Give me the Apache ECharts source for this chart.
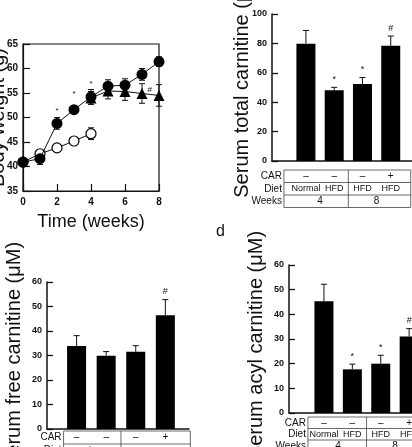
<!DOCTYPE html>
<html>
<head>
<meta charset="utf-8">
<script src="https://cdn.jsdelivr.net/npm/echarts@6/dist/echarts.min.js"></script>
<style>
  html, body { margin: 0; padding: 0; background: #fff; }
  #main { width: 412px; height: 447px; }
</style>
</head>
<body>
<div id="main"></div>
<script>
// panel a: body weight over time
const weeks = [0, 1, 2, 3, 4, 5, 6, 7, 8]
const hfdWeight = [40.9, 41.6, 48.8, 51.6, 54.2, 56.4, 56.6, 58.8, 61.4]
const hfdSem = [0.6, 1.2, 1.2, 0.6, 1.5, 1.3, 1.3, 1.2, 1.0]
const normalWeeks = [0, 1, 2, 3, 4]
const normalWeight = [40.9, 42.6, 43.8, 45.2, 46.7]
const normalSem = [0.5, 0.8, 0.5, 0.6, 1.2]
const carWeeks = [4, 5, 6, 7, 8]
const carWeight = [54.0, 55.4, 55.3, 54.9, 54.5]
const carSem = [1.3, 1.6, 1.8, 2.0, 2.2]
const sigWeeks = [2, 3, 4, 7.45]
const sigLevel = [51.4, 54.8, 56.8, 55.6]
const sigText = ['*', '*', '*', '#']

// panels b, c, d: serum carnitine
const groupPos = [1, 2, 3, 4]
const carRow = ['–', '–', '–', '+']
const dietRow = ['Normal', 'HFD', 'HFD', 'HFD']
const weekRow = ['4', '8']
const totalMean = [79.8, 48.1, 52.3, 78.4]
const totalSem = [9.0, 2.0, 4.5, 6.6]
const totalSig = ['', '*', '*', '#']
const freeMean = [33.9, 29.9, 31.5, 46.4]
const freeSem = [4.2, 1.7, 2.5, 6.4]
const freeSig = ['', '', '', '#']
const acylMean = [45.3, 17.7, 20.0, 31.0]
const acylSem = [6.9, 2.1, 3.4, 3.2]
const acylSig = ['', '*', '*', '#']

const FONT = '"Liberation Sans", Arial, sans-serif'
const INK = '#111'

const chart = echarts.init(document.getElementById('main'))

// vertical error bar with caps, data = [x, lo, hi]
const errorBar = (capHalf, lowCap) => (params, api) => {
  const lo = api.coord([api.value(0), api.value(1)])
  const hi = api.coord([api.value(0), api.value(2)])
  const style = { stroke: INK, lineWidth: 1 }
  const children = [
    { type: 'line', shape: { x1: lo[0], y1: lo[1], x2: hi[0], y2: hi[1] }, style },
    { type: 'line', shape: { x1: hi[0] - capHalf, y1: hi[1], x2: hi[0] + capHalf, y2: hi[1] }, style },
  ]
  if (lowCap) {
    children.push({ type: 'line', shape: { x1: lo[0] - capHalf, y1: lo[1], x2: lo[0] + capHalf, y2: lo[1] }, style })
  }
  return { type: 'group', children }
}

// significance marks, data = [x, y, textIndex]
const sigMark = (texts, lift, size) => (params, api) => {
  const p = api.coord([api.value(0), api.value(1)])
  return {
    type: 'text',
    x: p[0],
    y: p[1] - lift,
    style: { text: texts[api.value(2)], fill: INK, font: size + 'px ' + FONT, align: 'center', verticalAlign: 'middle' },
  }
}

const lineErr = (xs, mean, sem) => xs.map((x, i) => [x, mean[i] - sem[i], mean[i] + sem[i]])
const barErr = (mean, sem) => groupPos.map((x, i) => [x, mean[i], mean[i] + sem[i]])
const barSig = (mean, sem, sig) => groupPos
  .map((x, i) => [x, mean[i] + sem[i], i])
  .filter((d) => sig[d[2]] !== '')

// padding shifts the rotated title along the axis
const barYAxis = (gridIndex, max, interval, name, nameGap, padding) => ({
  gridIndex,
  type: 'value',
  min: 0,
  max,
  interval,
  name,
  nameLocation: 'middle',
  nameGap,
  nameMoveOverlap: false,
  nameTextStyle: { fontSize: 20, color: INK, fontFamily: FONT, padding },
  axisLine: { show: true, onZero: false, lineStyle: { color: INK, width: 1.5 } },
  axisTick: { show: true, inside: true, length: 6, lineStyle: { color: INK, width: 1.3 } },
  axisLabel: { margin: 5, fontSize: 9, fontWeight: 'bold', color: INK, fontFamily: FONT },
  splitLine: { show: false },
})

const barXAxis = (gridIndex, min, max) => ({
  gridIndex,
  type: 'value',
  min,
  max,
  axisLine: { show: true, onZero: false, lineStyle: { color: INK, width: 1.5 } },
  axisTick: { show: false },
  axisLabel: { show: false },
  splitLine: { show: false },
})

const barSeries = (idx, mean, sem, sig) => [
  {
    type: 'bar',
    xAxisIndex: idx,
    yAxisIndex: idx,
    barWidth: 19,
    itemStyle: { color: '#000' },
    data: groupPos.map((x, i) => [x, mean[i]]),
  },
  {
    type: 'custom',
    xAxisIndex: idx,
    yAxisIndex: idx,
    renderItem: errorBar(3, false),
    encode: { x: 0, y: [1, 2] },
    data: barErr(mean, sem),
    z: 3,
  },
  {
    type: 'custom',
    xAxisIndex: idx,
    yAxisIndex: idx,
    renderItem: sigMark(sig, 8, 9),
    encode: { x: 0, y: 1 },
    data: barSig(mean, sem, sig),
    z: 4,
  },
]

const gridBase = { containLabel: false, outerBoundsMode: 'none' }

chart.setOption({
  animation: false,
  backgroundColor: '#fff',
  grid: [
    { ...gridBase, left: 23, top: 44, width: 136, height: 147, show: true, borderColor: INK, borderWidth: 1.2 },
    { ...gridBase, left: 272, top: 14, width: 147, height: 147 },
    { ...gridBase, left: 47, top: 282, width: 142, height: 147 },
    { ...gridBase, left: 289, top: 265, width: 148, height: 148 },
  ],
  xAxis: [
    {
      gridIndex: 0,
      type: 'value',
      min: 0,
      max: 8,
      interval: 2,
      name: 'Time (weeks)',
      nameLocation: 'middle',
      nameGap: 22,
      nameTextStyle: { fontSize: 18, color: INK, fontFamily: FONT },
      axisLine: { show: true, onZero: false, lineStyle: { color: INK, width: 1.2 } },
      axisTick: { show: true, inside: true, length: 7, lineStyle: { color: INK, width: 1.2 } },
      axisLabel: { margin: 6, fontSize: 10, fontWeight: 'bold', color: INK, fontFamily: FONT },
      splitLine: { show: false },
    },
    barXAxis(1, -0.2, 5.0),
    barXAxis(2, 0, 4.8),
    barXAxis(3, -0.23, 4.98),
  ],
  yAxis: [
    {
      gridIndex: 0,
      type: 'value',
      min: 35,
      max: 65,
      interval: 5,
      name: 'Body weight (g)',
      nameLocation: 'middle',
      nameGap: 15,
      nameMoveOverlap: false,
      nameTextStyle: { fontSize: 20, color: INK, fontFamily: FONT },
      axisLine: { show: true, onZero: false, lineStyle: { color: INK, width: 1.2 } },
      axisTick: { show: true, inside: true, length: 7, lineStyle: { color: INK, width: 1.2 } },
      axisLabel: { margin: 5, fontSize: 10, fontWeight: 'bold', color: INK, fontFamily: FONT },
      splitLine: { show: false },
    },
    barYAxis(1, 100, 20, 'Serum total carnitine (μM)', 20, [0, 0, 0, 10]),
    barYAxis(2, 60, 10, 'Serum free carnitine (μM)', 23, 0),
    barYAxis(3, 60, 10, 'Serum acyl carnitine (μM)', 23, [0, 12, 0, 0]),
  ],
  series: [
    {
      type: 'custom',
      renderItem: errorBar(3, true),
      encode: { x: 0, y: [1, 2] },
      data: lineErr(normalWeeks, normalWeight, normalSem)
        .concat(lineErr(weeks, hfdWeight, hfdSem))
        .concat(lineErr(carWeeks, carWeight, carSem)),
      z: 1,
    },
    {
      type: 'line',
      data: carWeeks.map((w, i) => [w, carWeight[i]]),
      symbol: 'triangle',
      symbolSize: 11,
      lineStyle: { color: INK, width: 1 },
      itemStyle: { color: '#000' },
      z: 2,
    },
    {
      type: 'line',
      data: normalWeeks.map((w, i) => [w, normalWeight[i]]),
      symbol: 'circle',
      symbolSize: 10,
      lineStyle: { color: INK, width: 1 },
      itemStyle: { color: '#fff', borderColor: '#000', borderWidth: 1.2 },
      z: 3,
    },
    {
      type: 'line',
      data: weeks.map((w, i) => [w, hfdWeight[i]]),
      symbol: 'circle',
      symbolSize: 11,
      lineStyle: { color: INK, width: 1 },
      itemStyle: { color: '#000' },
      z: 4,
    },
    {
      type: 'custom',
      renderItem: sigMark(sigText, 0, 8),
      encode: { x: 0, y: 1 },
      data: sigWeeks.map((w, i) => [w, sigLevel[i], i]),
      z: 5,
    },
    ...barSeries(1, totalMean, totalSem, totalSig),
    ...barSeries(2, freeMean, freeSem, freeSig),
    ...barSeries(3, acylMean, acylSem, acylSig),
  ],
})

// condition tables under the bar panels, placed from the bar positions
const tables = [
  { grid: 1, gap: 9, rowH: 12.5, padL: 22, padR: 20 },
  { grid: 2, gap: 2, rowH: 13, padL: 13, padR: 25 },
  { grid: 3, gap: 4, rowH: 11.5, padL: 16, padR: 22 },
]
const graphics = []
const txt = (text, x, y, size, align) => ({
  type: 'text',
  x,
  y,
  silent: true,
  style: { text, fill: INK, font: size + 'px ' + FONT, align, verticalAlign: 'middle' },
})
const seg = (x1, y1, x2, y2) => ({
  type: 'line',
  silent: true,
  shape: { x1, y1, x2, y2 },
  style: { stroke: '#444', lineWidth: 0.8 },
})
tables.forEach((t) => {
  const px = groupPos.map((x) => chart.convertToPixel({ gridIndex: t.grid }, [x, 0]))
  const top = px[0][1] + t.gap
  const left = px[0][0] - t.padL
  const right = px[3][0] + t.padR
  const mid = (px[1][0] + px[2][0]) / 2
  const h = t.rowH
  graphics.push({
    type: 'rect',
    silent: true,
    shape: { x: left, y: top, width: right - left, height: 3 * h },
    style: { fill: 'none', stroke: '#444', lineWidth: 0.8 },
  })
  graphics.push(seg(left, top + h, right, top + h))
  graphics.push(seg(left, top + 2 * h, right, top + 2 * h))
  graphics.push(seg(mid, top, mid, top + 3 * h))
  const labels = ['CAR', 'Diet', 'Weeks']
  labels.forEach((l, r) => graphics.push(txt(l, left - 2, top + h * (r + 0.5), 10, 'right')))
  px.forEach((p, i) => {
    graphics.push(txt(carRow[i], p[0], top + h * 0.5, 10, 'center'))
    graphics.push(txt(dietRow[i], p[0], top + h * 1.5, 9, 'center'))
  })
  graphics.push(txt(weekRow[0], (px[0][0] + px[1][0]) / 2, top + h * 2.5, 10, 'center'))
  graphics.push(txt(weekRow[1], (px[2][0] + px[3][0]) / 2, top + h * 2.5, 10, 'center'))
})
graphics.push({
  type: 'text',
  x: 216,
  y: 224,
  silent: true,
  style: { text: 'd', fill: INK, font: '16px ' + FONT, align: 'left', verticalAlign: 'top' },
})
chart.setOption({ graphic: graphics })
</script>
</body>
</html>
